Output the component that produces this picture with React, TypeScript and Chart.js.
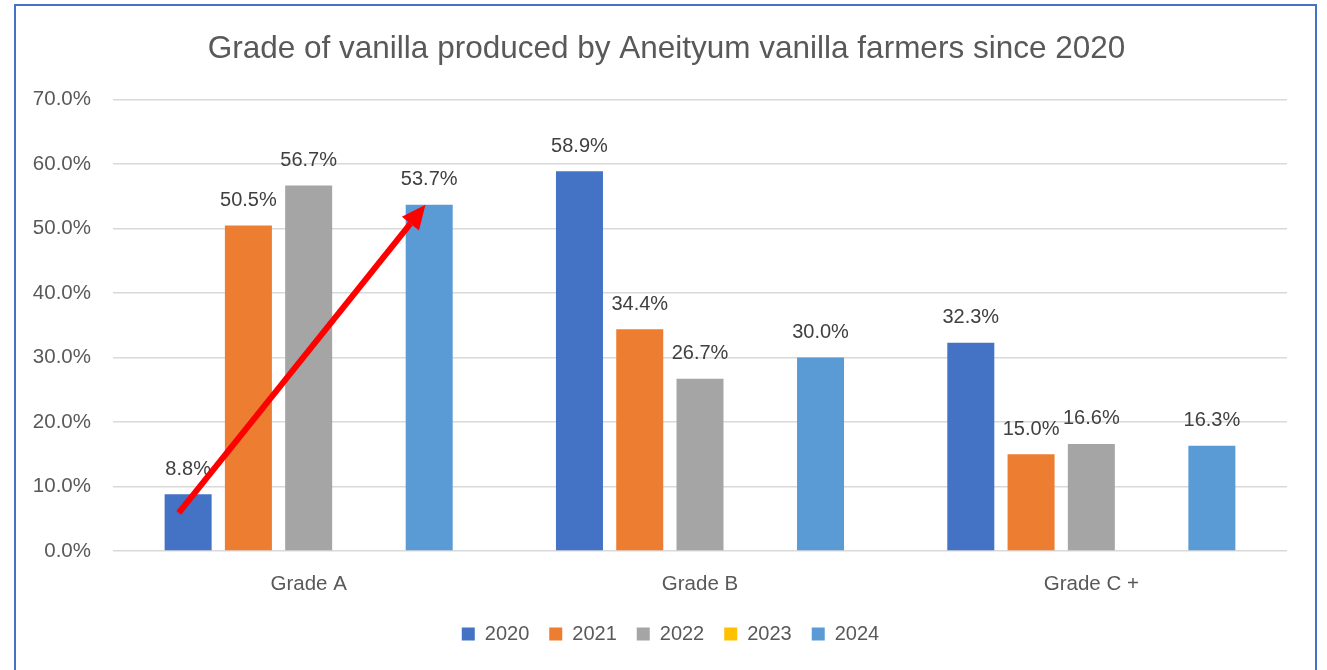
import React, { useEffect, useRef } from "react";
import { Chart, registerables } from "chart.js";

Chart.register(...registerables);

const categories = ["Grade A", "Grade B", "Grade C +"];
const seriesNames = ["2020", "2021", "2022", "2023", "2024"];
const values2020 = [8.8, 58.9, 32.3];
const values2021 = [50.5, 34.4, 15.0];
const values2022 = [56.7, 26.7, 16.6];
const values2023: (number | null)[] = [null, null, null];
const values2024 = [53.7, 30.0, 16.3];
const seriesColors = ["#4472C4", "#ED7D31", "#A5A5A5", "#FFC000", "#5B9BD5"];
const yTicks = [0, 10, 20, 30, 40, 50, 60, 70];
const titleText = "Grade of vanilla produced by Aneityum vanilla farmers since 2020";
// arrow annotation: from (category 0, series 2020, value 5.9) to (category 0, series 2024, value 53.7)
const arrowFrom = { category: 0, series: 0, value: 5.9, barOffset: -0.2 };
const arrowTo = { category: 0, series: 4, value: 53.7, barOffset: -0.08 };

const FONT = "'Liberation Sans', Arial, sans-serif";
const TEXT = "#595959";

const dataLabelPlugin = {
  id: "dataLabels",
  afterDatasetsDraw(chart: any) {
    const ctx = chart.ctx;
    ctx.save();
    ctx.font = `20px ${FONT}`;
    ctx.fillStyle = "#404040";
    ctx.textAlign = "center";
    ctx.textBaseline = "middle";
    chart.data.datasets.forEach((ds: any, di: number) => {
      const meta = chart.getDatasetMeta(di);
      meta.data.forEach((bar: any, i: number) => {
        const v = ds.data[i];
        if (v === null || v === undefined) return;
        ctx.fillText(v.toFixed(1) + "%", bar.x, bar.y - 25);
      });
    });
    ctx.restore();
  },
};

const arrowPlugin = {
  id: "arrow",
  afterDatasetsDraw(chart: any) {
    const ctx = chart.ctx;
    const y = chart.scales.y;
    const pFrom = chart.getDatasetMeta(arrowFrom.series).data[arrowFrom.category];
    const pTo = chart.getDatasetMeta(arrowTo.series).data[arrowTo.category];
    const x1 = pFrom.x + pFrom.width * arrowFrom.barOffset;
    const y1 = y.getPixelForValue(arrowFrom.value);
    const x2 = pTo.x + pTo.width * arrowTo.barOffset;
    const y2 = y.getPixelForValue(arrowTo.value);
    const ang = Math.atan2(y2 - y1, x2 - x1);
    const headLen = 24;
    const headW = 11;
    const bx = x2 - headLen * Math.cos(ang);
    const by = y2 - headLen * Math.sin(ang);
    ctx.save();
    ctx.strokeStyle = "#FF0000";
    ctx.fillStyle = "#FF0000";
    ctx.lineWidth = 6;
    ctx.beginPath();
    ctx.moveTo(x1, y1);
    ctx.lineTo(bx, by);
    ctx.stroke();
    ctx.beginPath();
    ctx.moveTo(x2, y2);
    ctx.lineTo(bx + headW * Math.sin(ang), by - headW * Math.cos(ang));
    ctx.lineTo(bx - headW * Math.sin(ang), by + headW * Math.cos(ang));
    ctx.closePath();
    ctx.fill();
    ctx.restore();
  },
};

// shift title and legend so they are centred on the full frame rather than the padded box
const centerShiftPlugin = {
  id: "centerShift",
  afterLayout(chart: any) {
    if (chart.titleBlock) {
      chart.titleBlock.left += 13;
      chart.titleBlock.right += 13;
    }
    if (chart.legend) {
      chart.legend.left += 17;
      chart.legend.right += 17;
      chart.legend.top -= 6.5;
      chart.legend.bottom -= 6.5;
    }
  },
};

export default function App() {
  const ref = useRef<HTMLCanvasElement>(null);
  useEffect(() => {
    const allValues = [values2020, values2021, values2022, values2023, values2024];
    const chart = new Chart(ref.current!, {
      type: "bar",
      data: {
        labels: categories,
        datasets: seriesNames.map((n, i) => ({
          label: n,
          data: allValues[i] as any,
          backgroundColor: seriesColors[i],
          borderWidth: 0,
          categoryPercentage: 0.77,
          barPercentage: 0.78,
        })),
      },
      options: {
        animation: false,
        responsive: false,
        maintainAspectRatio: false,
        layout: { padding: { left: 20, right: 40, top: 0, bottom: 9.5 } },
        plugins: {
          title: {
            display: true,
            text: titleText,
            color: TEXT,
            font: { family: FONT, size: 31.5, weight: "normal" },
            padding: { top: 30, bottom: 32 },
          },
          legend: {
            position: "bottom",
            labels: {
              color: TEXT,
              font: { family: FONT, size: 20 },
              boxWidth: 13,
              boxHeight: 13,
              padding: 20,
            },
          },
          tooltip: { enabled: false },
        },
        scales: {
          x: {
            grid: { display: false },
            border: { display: false },
            ticks: { color: TEXT, font: { family: FONT, size: 20.5 }, padding: 13.5 },
          },
          y: {
            min: 0,
            max: 70,
            afterBuildTicks: (s: any) => {
              s.ticks = yTicks.map((v) => ({ value: v }));
            },
            afterFit: (s: any) => {
              s.width = 93;
            },
            grid: { color: "#D9D9D9", lineWidth: 1.5, drawTicks: false },
            border: { display: false },
            ticks: {
              color: TEXT,
              font: { family: FONT, size: 20.5 },
              padding: 22,
              callback: (v: any) => Number(v).toFixed(1) + "%",
            },
          },
        },
      },
      plugins: [dataLabelPlugin, arrowPlugin, centerShiftPlugin],
    });
    return () => chart.destroy();
  }, []);
  return (
    <div style={{ position: "fixed", left: 0, top: 0, width: 1327, height: 670, background: "#fff", overflow: "hidden" }}>
      <div
        style={{
          position: "absolute",
          left: 14,
          top: 4,
          width: 1303,
          height: 720,
          border: "2px solid #4472C4",
          boxSizing: "border-box",
        }}
      />
      <canvas ref={ref} width={1327} height={670} style={{ position: "absolute", left: 0, top: 0 }} />
    </div>
  );
}
